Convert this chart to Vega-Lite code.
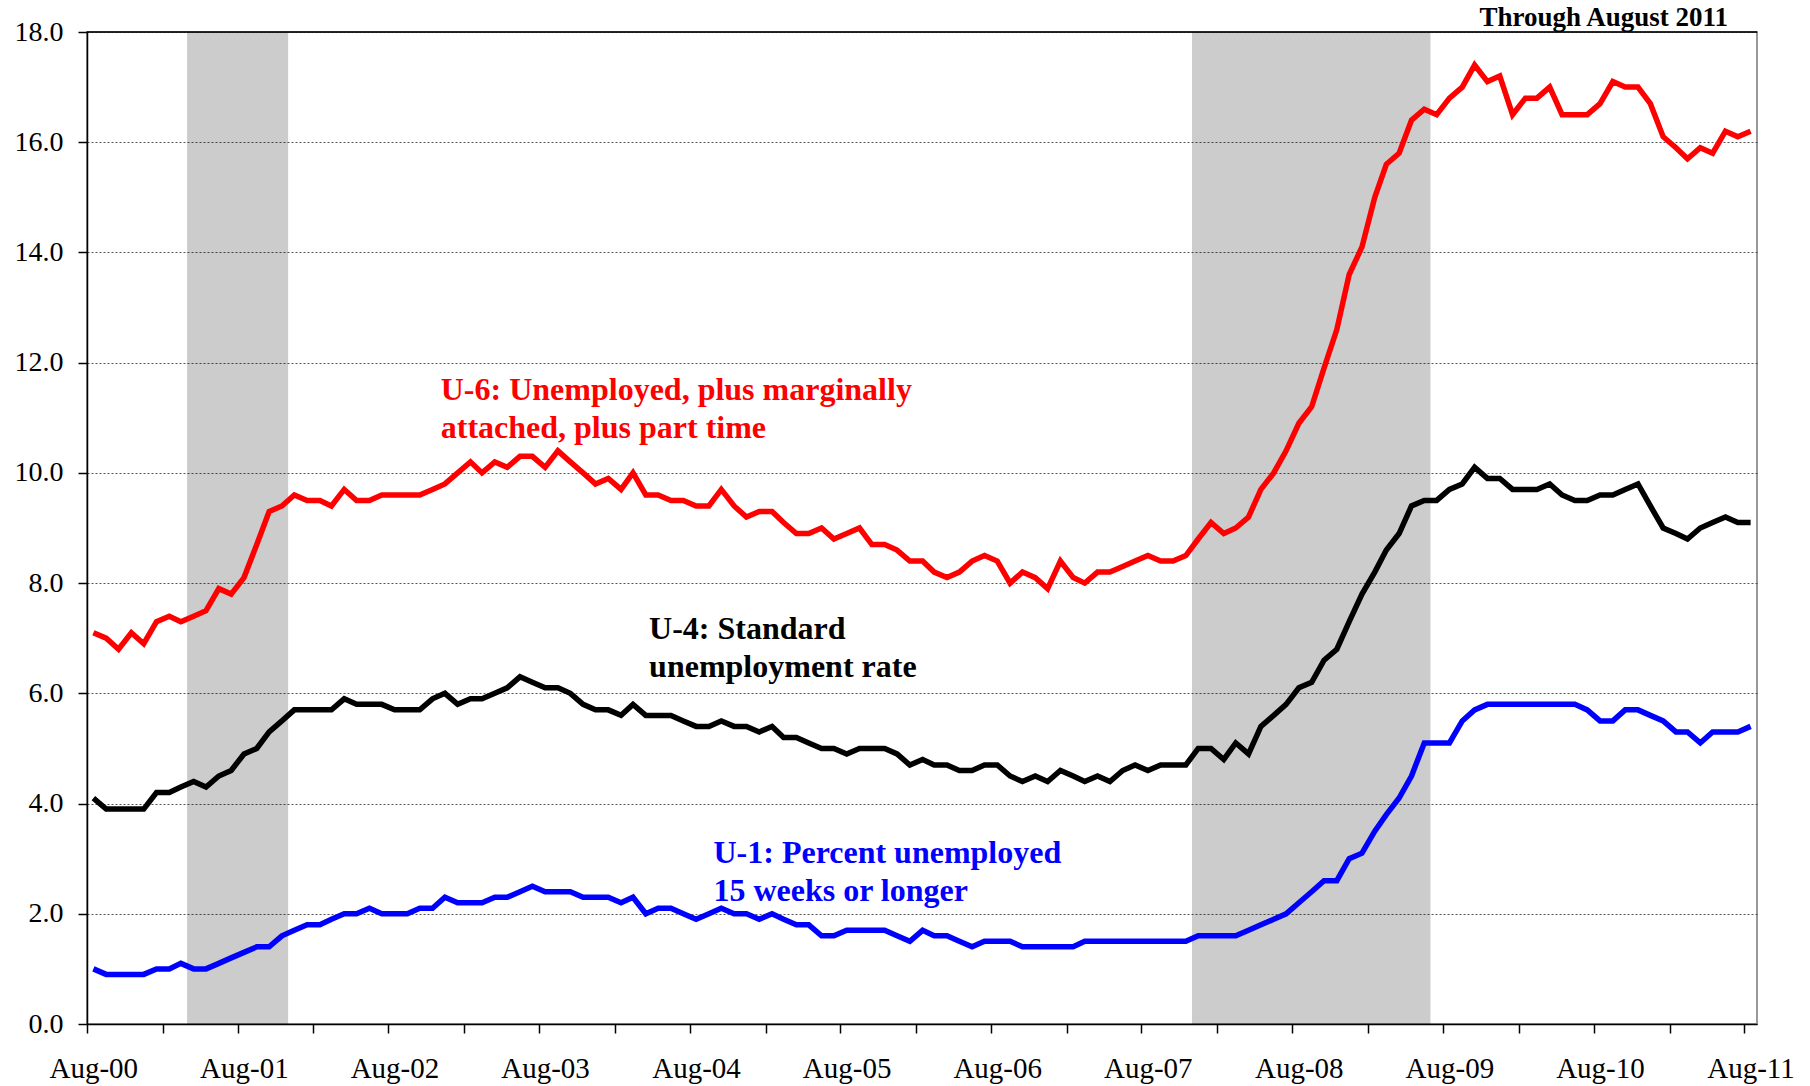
{
  "$schema": "https://vega.github.io/schema/vega-lite/v6.json",
  "width": 1670,
  "height": 992,
  "autosize": {"type": "none"},
  "padding": {"left": 87, "top": 32, "right": 53, "bottom": 62},
  "background": "white",
  "config": {"view": {"stroke": "#999999", "strokeWidth": 2}, "font": "Liberation Serif"},
  "title": {"text": "Through August 2011", "font": "Liberation Serif", "fontSize": 27, "fontWeight": "bold", "color": "#000000", "anchor": "end", "frame": "group", "dx": -29, "offset": -35, "baseline": "alphabetic"},
  "datasets": {
    "rates": [
      {"date": "2000-08-01", "U6": 7.1, "U4": 4.1, "U1": 1.0},
      {"date": "2000-09-01", "U6": 7.0, "U4": 3.9, "U1": 0.9},
      {"date": "2000-10-01", "U6": 6.8, "U4": 3.9, "U1": 0.9},
      {"date": "2000-11-01", "U6": 7.1, "U4": 3.9, "U1": 0.9},
      {"date": "2000-12-01", "U6": 6.9, "U4": 3.9, "U1": 0.9},
      {"date": "2001-01-01", "U6": 7.3, "U4": 4.2, "U1": 1.0},
      {"date": "2001-02-01", "U6": 7.4, "U4": 4.2, "U1": 1.0},
      {"date": "2001-03-01", "U6": 7.3, "U4": 4.3, "U1": 1.1},
      {"date": "2001-04-01", "U6": 7.4, "U4": 4.4, "U1": 1.0},
      {"date": "2001-05-01", "U6": 7.5, "U4": 4.3, "U1": 1.0},
      {"date": "2001-06-01", "U6": 7.9, "U4": 4.5, "U1": 1.1},
      {"date": "2001-07-01", "U6": 7.8, "U4": 4.6, "U1": 1.2},
      {"date": "2001-08-01", "U6": 8.1, "U4": 4.9, "U1": 1.3},
      {"date": "2001-09-01", "U6": 8.7, "U4": 5.0, "U1": 1.4},
      {"date": "2001-10-01", "U6": 9.3, "U4": 5.3, "U1": 1.4},
      {"date": "2001-11-01", "U6": 9.4, "U4": 5.5, "U1": 1.6},
      {"date": "2001-12-01", "U6": 9.6, "U4": 5.7, "U1": 1.7},
      {"date": "2002-01-01", "U6": 9.5, "U4": 5.7, "U1": 1.8},
      {"date": "2002-02-01", "U6": 9.5, "U4": 5.7, "U1": 1.8},
      {"date": "2002-03-01", "U6": 9.4, "U4": 5.7, "U1": 1.9},
      {"date": "2002-04-01", "U6": 9.7, "U4": 5.9, "U1": 2.0},
      {"date": "2002-05-01", "U6": 9.5, "U4": 5.8, "U1": 2.0},
      {"date": "2002-06-01", "U6": 9.5, "U4": 5.8, "U1": 2.1},
      {"date": "2002-07-01", "U6": 9.6, "U4": 5.8, "U1": 2.0},
      {"date": "2002-08-01", "U6": 9.6, "U4": 5.7, "U1": 2.0},
      {"date": "2002-09-01", "U6": 9.6, "U4": 5.7, "U1": 2.0},
      {"date": "2002-10-01", "U6": 9.6, "U4": 5.7, "U1": 2.1},
      {"date": "2002-11-01", "U6": 9.7, "U4": 5.9, "U1": 2.1},
      {"date": "2002-12-01", "U6": 9.8, "U4": 6.0, "U1": 2.3},
      {"date": "2003-01-01", "U6": 10.0, "U4": 5.8, "U1": 2.2},
      {"date": "2003-02-01", "U6": 10.2, "U4": 5.9, "U1": 2.2},
      {"date": "2003-03-01", "U6": 10.0, "U4": 5.9, "U1": 2.2},
      {"date": "2003-04-01", "U6": 10.2, "U4": 6.0, "U1": 2.3},
      {"date": "2003-05-01", "U6": 10.1, "U4": 6.1, "U1": 2.3},
      {"date": "2003-06-01", "U6": 10.3, "U4": 6.3, "U1": 2.4},
      {"date": "2003-07-01", "U6": 10.3, "U4": 6.2, "U1": 2.5},
      {"date": "2003-08-01", "U6": 10.1, "U4": 6.1, "U1": 2.4},
      {"date": "2003-09-01", "U6": 10.4, "U4": 6.1, "U1": 2.4},
      {"date": "2003-10-01", "U6": 10.2, "U4": 6.0, "U1": 2.4},
      {"date": "2003-11-01", "U6": 10.0, "U4": 5.8, "U1": 2.3},
      {"date": "2003-12-01", "U6": 9.8, "U4": 5.7, "U1": 2.3},
      {"date": "2004-01-01", "U6": 9.9, "U4": 5.7, "U1": 2.3},
      {"date": "2004-02-01", "U6": 9.7, "U4": 5.6, "U1": 2.2},
      {"date": "2004-03-01", "U6": 10.0, "U4": 5.8, "U1": 2.3},
      {"date": "2004-04-01", "U6": 9.6, "U4": 5.6, "U1": 2.0},
      {"date": "2004-05-01", "U6": 9.6, "U4": 5.6, "U1": 2.1},
      {"date": "2004-06-01", "U6": 9.5, "U4": 5.6, "U1": 2.1},
      {"date": "2004-07-01", "U6": 9.5, "U4": 5.5, "U1": 2.0},
      {"date": "2004-08-01", "U6": 9.4, "U4": 5.4, "U1": 1.9},
      {"date": "2004-09-01", "U6": 9.4, "U4": 5.4, "U1": 2.0},
      {"date": "2004-10-01", "U6": 9.7, "U4": 5.5, "U1": 2.1},
      {"date": "2004-11-01", "U6": 9.4, "U4": 5.4, "U1": 2.0},
      {"date": "2004-12-01", "U6": 9.2, "U4": 5.4, "U1": 2.0},
      {"date": "2005-01-01", "U6": 9.3, "U4": 5.3, "U1": 1.9},
      {"date": "2005-02-01", "U6": 9.3, "U4": 5.4, "U1": 2.0},
      {"date": "2005-03-01", "U6": 9.1, "U4": 5.2, "U1": 1.9},
      {"date": "2005-04-01", "U6": 8.9, "U4": 5.2, "U1": 1.8},
      {"date": "2005-05-01", "U6": 8.9, "U4": 5.1, "U1": 1.8},
      {"date": "2005-06-01", "U6": 9.0, "U4": 5.0, "U1": 1.6},
      {"date": "2005-07-01", "U6": 8.8, "U4": 5.0, "U1": 1.6},
      {"date": "2005-08-01", "U6": 8.9, "U4": 4.9, "U1": 1.7},
      {"date": "2005-09-01", "U6": 9.0, "U4": 5.0, "U1": 1.7},
      {"date": "2005-10-01", "U6": 8.7, "U4": 5.0, "U1": 1.7},
      {"date": "2005-11-01", "U6": 8.7, "U4": 5.0, "U1": 1.7},
      {"date": "2005-12-01", "U6": 8.6, "U4": 4.9, "U1": 1.6},
      {"date": "2006-01-01", "U6": 8.4, "U4": 4.7, "U1": 1.5},
      {"date": "2006-02-01", "U6": 8.4, "U4": 4.8, "U1": 1.7},
      {"date": "2006-03-01", "U6": 8.2, "U4": 4.7, "U1": 1.6},
      {"date": "2006-04-01", "U6": 8.1, "U4": 4.7, "U1": 1.6},
      {"date": "2006-05-01", "U6": 8.2, "U4": 4.6, "U1": 1.5},
      {"date": "2006-06-01", "U6": 8.4, "U4": 4.6, "U1": 1.4},
      {"date": "2006-07-01", "U6": 8.5, "U4": 4.7, "U1": 1.5},
      {"date": "2006-08-01", "U6": 8.4, "U4": 4.7, "U1": 1.5},
      {"date": "2006-09-01", "U6": 8.0, "U4": 4.5, "U1": 1.5},
      {"date": "2006-10-01", "U6": 8.2, "U4": 4.4, "U1": 1.4},
      {"date": "2006-11-01", "U6": 8.1, "U4": 4.5, "U1": 1.4},
      {"date": "2006-12-01", "U6": 7.9, "U4": 4.4, "U1": 1.4},
      {"date": "2007-01-01", "U6": 8.4, "U4": 4.6, "U1": 1.4},
      {"date": "2007-02-01", "U6": 8.1, "U4": 4.5, "U1": 1.4},
      {"date": "2007-03-01", "U6": 8.0, "U4": 4.4, "U1": 1.5},
      {"date": "2007-04-01", "U6": 8.2, "U4": 4.5, "U1": 1.5},
      {"date": "2007-05-01", "U6": 8.2, "U4": 4.4, "U1": 1.5},
      {"date": "2007-06-01", "U6": 8.3, "U4": 4.6, "U1": 1.5},
      {"date": "2007-07-01", "U6": 8.4, "U4": 4.7, "U1": 1.5},
      {"date": "2007-08-01", "U6": 8.5, "U4": 4.6, "U1": 1.5},
      {"date": "2007-09-01", "U6": 8.4, "U4": 4.7, "U1": 1.5},
      {"date": "2007-10-01", "U6": 8.4, "U4": 4.7, "U1": 1.5},
      {"date": "2007-11-01", "U6": 8.5, "U4": 4.7, "U1": 1.5},
      {"date": "2007-12-01", "U6": 8.8, "U4": 5.0, "U1": 1.6},
      {"date": "2008-01-01", "U6": 9.1, "U4": 5.0, "U1": 1.6},
      {"date": "2008-02-01", "U6": 8.9, "U4": 4.8, "U1": 1.6},
      {"date": "2008-03-01", "U6": 9.0, "U4": 5.1, "U1": 1.6},
      {"date": "2008-04-01", "U6": 9.2, "U4": 4.9, "U1": 1.7},
      {"date": "2008-05-01", "U6": 9.7, "U4": 5.4, "U1": 1.8},
      {"date": "2008-06-01", "U6": 10.0, "U4": 5.6, "U1": 1.9},
      {"date": "2008-07-01", "U6": 10.4, "U4": 5.8, "U1": 2.0},
      {"date": "2008-08-01", "U6": 10.9, "U4": 6.1, "U1": 2.2},
      {"date": "2008-09-01", "U6": 11.2, "U4": 6.2, "U1": 2.4},
      {"date": "2008-10-01", "U6": 11.9, "U4": 6.6, "U1": 2.6},
      {"date": "2008-11-01", "U6": 12.6, "U4": 6.8, "U1": 2.6},
      {"date": "2008-12-01", "U6": 13.6, "U4": 7.3, "U1": 3.0},
      {"date": "2009-01-01", "U6": 14.1, "U4": 7.8, "U1": 3.1},
      {"date": "2009-02-01", "U6": 15.0, "U4": 8.2, "U1": 3.5},
      {"date": "2009-03-01", "U6": 15.6, "U4": 8.6, "U1": 3.8},
      {"date": "2009-04-01", "U6": 15.8, "U4": 8.9, "U1": 4.1},
      {"date": "2009-05-01", "U6": 16.4, "U4": 9.4, "U1": 4.5},
      {"date": "2009-06-01", "U6": 16.6, "U4": 9.5, "U1": 5.1},
      {"date": "2009-07-01", "U6": 16.5, "U4": 9.5, "U1": 5.1},
      {"date": "2009-08-01", "U6": 16.8, "U4": 9.7, "U1": 5.1},
      {"date": "2009-09-01", "U6": 17.0, "U4": 9.8, "U1": 5.5},
      {"date": "2009-10-01", "U6": 17.4, "U4": 10.1, "U1": 5.7},
      {"date": "2009-11-01", "U6": 17.1, "U4": 9.9, "U1": 5.8},
      {"date": "2009-12-01", "U6": 17.2, "U4": 9.9, "U1": 5.8},
      {"date": "2010-01-01", "U6": 16.5, "U4": 9.7, "U1": 5.8},
      {"date": "2010-02-01", "U6": 16.8, "U4": 9.7, "U1": 5.8},
      {"date": "2010-03-01", "U6": 16.8, "U4": 9.7, "U1": 5.8},
      {"date": "2010-04-01", "U6": 17.0, "U4": 9.8, "U1": 5.8},
      {"date": "2010-05-01", "U6": 16.5, "U4": 9.6, "U1": 5.8},
      {"date": "2010-06-01", "U6": 16.5, "U4": 9.5, "U1": 5.8},
      {"date": "2010-07-01", "U6": 16.5, "U4": 9.5, "U1": 5.7},
      {"date": "2010-08-01", "U6": 16.7, "U4": 9.6, "U1": 5.5},
      {"date": "2010-09-01", "U6": 17.1, "U4": 9.6, "U1": 5.5},
      {"date": "2010-10-01", "U6": 17.0, "U4": 9.7, "U1": 5.7},
      {"date": "2010-11-01", "U6": 17.0, "U4": 9.8, "U1": 5.7},
      {"date": "2010-12-01", "U6": 16.7, "U4": 9.4, "U1": 5.6},
      {"date": "2011-01-01", "U6": 16.1, "U4": 9.0, "U1": 5.5},
      {"date": "2011-02-01", "U6": 15.9, "U4": 8.9, "U1": 5.3},
      {"date": "2011-03-01", "U6": 15.7, "U4": 8.8, "U1": 5.3},
      {"date": "2011-04-01", "U6": 15.9, "U4": 9.0, "U1": 5.1},
      {"date": "2011-05-01", "U6": 15.8, "U4": 9.1, "U1": 5.3},
      {"date": "2011-06-01", "U6": 16.2, "U4": 9.2, "U1": 5.3},
      {"date": "2011-07-01", "U6": 16.1, "U4": 9.1, "U1": 5.3},
      {"date": "2011-08-01", "U6": 16.2, "U4": 9.1, "U1": 5.4}
    ],
    "recessions": [
      {"start": "2001-03-16", "end": "2001-11-16"},
      {"start": "2007-11-16", "end": "2009-06-16"}
    ]
  },
  "layer": [
    {
      "data": {"name": "recessions"},
      "mark": {"type": "rect", "color": "#000000", "opacity": 0.2},
      "encoding": {
        "x": {"field": "start", "type": "temporal",
          "scale": {"type": "utc", "domain": [{"year": 2000, "month": 7, "date": 16, "hours": 12, "utc": true}, {"year": 2011, "month": 8, "date": 16, "hours": 12, "utc": true}]},
          "axis": {
            "title": null,
            "values": [
              {"year": 2000, "month": 7, "date": 16, "hours": 12, "utc": true},
              {"year": 2001, "month": 1, "date": 16, "hours": 12, "utc": true},
              {"year": 2001, "month": 7, "date": 16, "hours": 12, "utc": true},
              {"year": 2002, "month": 1, "date": 16, "hours": 12, "utc": true},
              {"year": 2002, "month": 7, "date": 16, "hours": 12, "utc": true},
              {"year": 2003, "month": 1, "date": 16, "hours": 12, "utc": true},
              {"year": 2003, "month": 7, "date": 16, "hours": 12, "utc": true},
              {"year": 2004, "month": 1, "date": 16, "hours": 12, "utc": true},
              {"year": 2004, "month": 7, "date": 16, "hours": 12, "utc": true},
              {"year": 2005, "month": 1, "date": 16, "hours": 12, "utc": true},
              {"year": 2005, "month": 7, "date": 16, "hours": 12, "utc": true},
              {"year": 2006, "month": 1, "date": 16, "hours": 12, "utc": true},
              {"year": 2006, "month": 7, "date": 16, "hours": 12, "utc": true},
              {"year": 2007, "month": 1, "date": 16, "hours": 12, "utc": true},
              {"year": 2007, "month": 7, "date": 16, "hours": 12, "utc": true},
              {"year": 2008, "month": 1, "date": 16, "hours": 12, "utc": true},
              {"year": 2008, "month": 7, "date": 16, "hours": 12, "utc": true},
              {"year": 2009, "month": 1, "date": 16, "hours": 12, "utc": true},
              {"year": 2009, "month": 7, "date": 16, "hours": 12, "utc": true},
              {"year": 2010, "month": 1, "date": 16, "hours": 12, "utc": true},
              {"year": 2010, "month": 7, "date": 16, "hours": 12, "utc": true},
              {"year": 2011, "month": 1, "date": 16, "hours": 12, "utc": true},
              {"year": 2011, "month": 7, "date": 16, "hours": 12, "utc": true}
            ],
            "labelExpr": "utcmonth(datum.value) == 6 ? 'Aug-' + utcFormat(datum.value, '%y') : ''",
            "labelOffset": 6.3,
            "labelOverlap": false,
            "labelFlush": false,
            "labelBound": false,
            "labelFont": "Liberation Serif",
            "labelFontSize": 29,
            "labelColor": "#000000",
            "labelPadding": 21,
            "tickSize": 9,
            "tickWidth": 1.5,
            "tickColor": "#000000",
            "domainColor": "#000000",
            "domainWidth": 1.5,
            "grid": false
          }
        },
        "x2": {"field": "end"},
        "y": {"datum": 0, "type": "quantitative"},
        "y2": {"datum": 18}
      }
    },
    {
      "data": {"name": "rates"},
      "transform": [{"fold": ["U6", "U4", "U1"], "as": ["series", "rate"]}],
      "mark": {"type": "line", "strokeWidth": 5.5},
      "encoding": {
        "x": {"field": "date", "type": "temporal"},
        "y": {"field": "rate", "type": "quantitative",
          "scale": {"domain": [0, 18], "nice": false, "zero": true},
          "axis": {
            "title": null,
            "values": [0, 2, 4, 6, 8, 10, 12, 14, 16, 18],
            "format": ".1f",
            "labelFont": "Liberation Serif",
            "labelFontSize": 28,
            "labelColor": "#000000",
            "labelPadding": 15,
            "labelFlush": false,
            "tickSize": 9,
            "tickWidth": 1.5,
            "tickColor": "#000000",
            "domainColor": "#000000",
            "domainWidth": 1.5,
            "grid": true,
            "gridColor": "#555555",
            "gridDash": [2, 2],
            "gridWidth": 1
          }
        },
        "color": {"field": "series", "type": "nominal",
          "scale": {"domain": ["U6", "U4", "U1"], "range": ["#FF0000", "#000000", "#0000FF"]},
          "legend": null}
      }
    },
    {
      "data": {"values": [{}]},
      "mark": {"type": "rule", "color": "#000000", "strokeWidth": 1.5},
      "encoding": {"y": {"datum": 18, "type": "quantitative"}}
    },
    {
      "data": {"values": [{}]},
      "mark": {"type": "text", "text": ["U-6: Unemployed, plus marginally", "attached, plus part time"], "align": "left", "baseline": "alphabetic", "lineHeight": 38, "font": "Liberation Serif", "fontSize": 32, "fontWeight": "bold", "color": "#FF0000"},
      "encoding": {
        "x": {"datum": {"year": 2002, "month": 11, "date": 21, "utc": true}, "type": "temporal"},
        "y": {"datum": 11.33, "type": "quantitative"}
      }
    },
    {
      "data": {"values": [{}]},
      "mark": {"type": "text", "text": ["U-4: Standard", "unemployment rate"], "align": "left", "baseline": "alphabetic", "lineHeight": 38, "font": "Liberation Serif", "fontSize": 32, "fontWeight": "bold", "color": "#000000"},
      "encoding": {
        "x": {"datum": {"year": 2004, "month": 4, "date": 9, "utc": true}, "type": "temporal"},
        "y": {"datum": 6.98, "type": "quantitative"}
      }
    },
    {
      "data": {"values": [{}]},
      "mark": {"type": "text", "text": ["U-1: Percent unemployed", "15 weeks or longer"], "align": "left", "baseline": "alphabetic", "lineHeight": 38, "font": "Liberation Serif", "fontSize": 32, "fontWeight": "bold", "color": "#0000FF"},
      "encoding": {
        "x": {"datum": {"year": 2004, "month": 9, "date": 12, "utc": true}, "type": "temporal"},
        "y": {"datum": 2.92, "type": "quantitative"}
      }
    }
  ]
}
